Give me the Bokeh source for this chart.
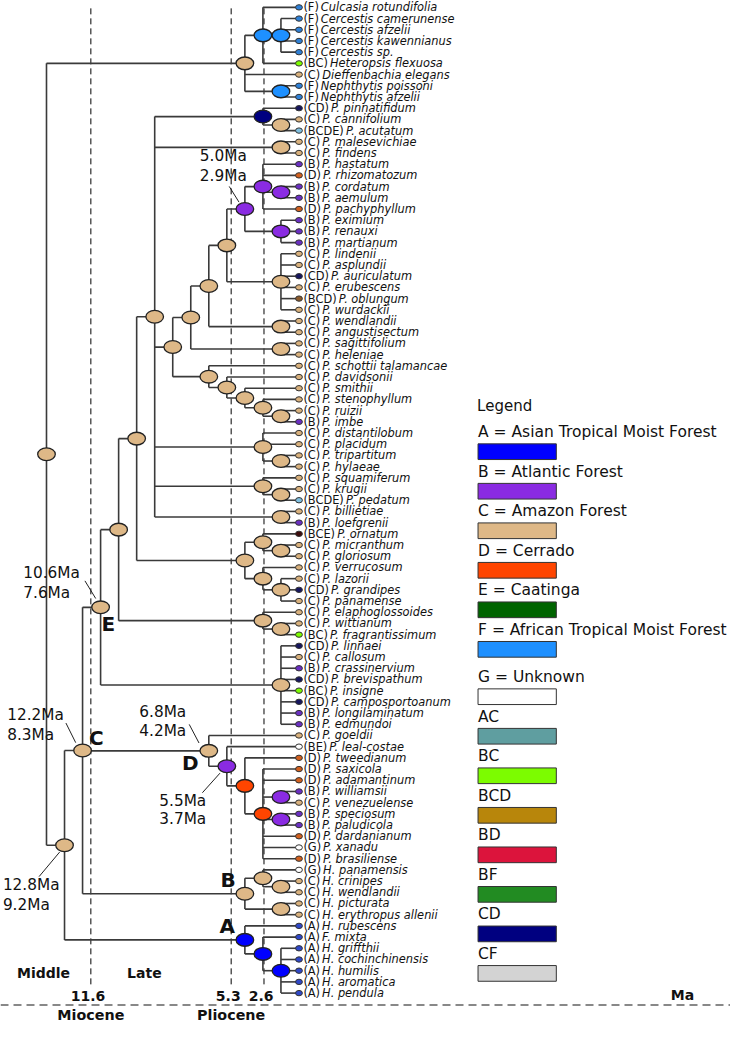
from bokeh.plotting import figure
from bokeh.models import Range1d
from bokeh.core.properties import value
from bokeh.embed import file_html
from bokeh.resources import INLINE

# ---------------- data ----------------
tip_names = [
    "Culcasia rotundifolia", "Cercestis camerunense", "Cercestis afzelii", "Cercestis kawennianus",
    "Cercestis sp.", "Heteropsis flexuosa", "Dieffenbachia elegans", "Nephthytis poissoni", "Nephthytis afzelii",
    "P. pinnatifidum", "P. cannifolium", "P. acutatum", "P. malesevichiae", "P. findens", "P. hastatum",
    "P. rhizomatozum", "P. cordatum", "P. aemulum", "P. pachyphyllum", "P. eximium", "P. renauxi", "P. martianum",
    "P. lindenii", "P. asplundii", "P. auriculatum", "P. erubescens", "P. oblungum", "P. wurdackii",
    "P. wendlandii", "P. angustisectum", "P. sagittifolium", "P. heleniae",
    "P. schottii talamancae", "P. davidsonii", "P. smithii", "P. stenophyllum", "P. ruizii", "P. imbe",
    "P. distantilobum", "P. placidum", "P. tripartitum", "P. hylaeae", "P. squamiferum", "P. krugii",
    "P. pedatum", "P. billietiae", "P. loefgrenii",
    "P. ornatum", "P. micranthum", "P. gloriosum", "P. verrucosum", "P. lazorii", "P. grandipes",
    "P. panamense", "P. elaphoglossoides", "P. wittianum", "P. fragrantissimum",
    "P. linnaei", "P. callosum", "P. crassinervium", "P. brevispathum", "P. insigne", "P. camposportoanum",
    "P. longilaminatum", "P. edmundoi",
    "P. goeldii", "P. leal-costae", "P. tweedianum", "P. saxicola", "P. adamantinum", "P. williamsii",
    "P. venezuelense", "P. speciosum", "P. paludicola", "P. dardanianum", "P. xanadu", "P. brasiliense",
    "H. panamensis", "H. crinipes", "H. wendlandii", "H. picturata", "H. erythropus allenii", "H. rubescens",
    "F. mixta", "H. griffthii", "H. cochinchinensis", "H. humilis", "H. aromatica", "H. pendula",
]
tip_codes = [
    "F", "F", "F", "F", "F", "BC", "C", "F", "F",
    "CD", "C", "BCDE", "C", "C", "B", "D", "B", "B", "D", "B", "B", "B",
    "C", "C", "CD", "C", "BCD", "C", "C", "C", "C", "C",
    "C", "C", "C", "C", "C", "B", "C", "C", "C", "C", "C", "C", "BCDE", "C", "B",
    "BCE", "C", "C", "C", "C", "CD", "C", "C", "C", "BC",
    "CD", "C", "B", "CD", "BC", "CD", "B", "B",
    "C", "BE", "D", "D", "D", "B", "C", "B", "B", "D", "G", "D",
    "G", "C", "C", "C", "C", "A", "A", "A", "A", "A", "A", "A",
]
tip_parent = [
    2, 3, 3, 3, 3, 2, 1, 4, 4,
    11, 12, 12, 13, 13, 19, 19, 20, 20, 19, 21, 21, 21,
    22, 22, 22, 22, 22, 22, 23, 23, 24, 24,
    25, 26, 27, 28, 29, 29, 30, 30, 31, 31, 32, 33, 33, 34, 34,
    36, 37, 37, 38, 39, 39, 39, 40, 41, 41,
    42, 42, 42, 42, 42, 42, 42, 42,
    43, 44, 45, 46, 46, 47, 47, 48, 48, 46, 46, 46,
    50, 51, 51, 52, 52, 53, 54, 55, 55, 55, 55, 55,
]
# internal nodes: parent, depth level (column), reconstructed area
node_parent = [-1, 0, 1, 2, 1, 0, 5, 6, 7, 8, 9, 10, 11, 10, 10, 14, 15, 16, 17, 18, 19, 18, 17, 16, 15,
               14, 25, 26, 27, 28, 10, 30, 10, 32, 10, 9, 35, 36, 35, 38, 8, 40, 7, 6, 43, 44, 45, 46, 46,
               6, 49, 50, 49, 5, 53, 54]
node_level = [0, 11, 12, 13, 13, 1, 2, 3, 4, 5, 6, 12, 13, 13, 7, 8, 9, 10, 11, 12, 13, 13, 13, 13, 13,
              9, 10, 11, 12, 13, 12, 13, 12, 13, 13, 11, 12, 13, 12, 13, 12, 13, 13, 9, 10, 11, 12, 13, 13,
              11, 12, 13, 13, 11, 12, 13]
node_area = ["C", "C", "F", "F", "F", "C", "C", "C", "C", "C", "C", "CD", "C", "C", "C", "C", "C", "C", "B",
             "B", "B", "B", "C", "C", "C", "C", "C", "C", "C", "C", "C", "C", "C", "C", "C", "C", "C", "C",
             "C", "C", "C", "C", "C", "C", "B", "D", "D", "B", "B", "C", "C", "C", "C", "A", "A", "A"]

age_nodes = [18, 7, 6, 43, 44, 5]
age_upper = ["5.0Ma", "10.6Ma", "12.2Ma", "6.8Ma", "5.5Ma", "12.8Ma"]
age_lower = ["2.9Ma", "7.6Ma", "8.3Ma", "4.2Ma", "3.7Ma", "9.2Ma"]

clade_letters = ["A", "B", "C", "D", "E"]
clade_nodes = [53, 49, 6, 43, 7]

boundary_labels = ["11.6", "5.3", "2.6"]
boundary_level = [2.46, 10.24, 12.06]
epoch_names = ["Miocene", "Pliocene"]
subepoch_names = ["Middle", "Late"]

legend_codes = ["A", "B", "C", "D", "E", "F", "G", "AC", "BC", "BCD", "BD", "BF", "CD", "CF"]
legend_labels = ["A = Asian Tropical Moist Forest", "B = Atlantic Forest", "C = Amazon Forest",
                 "D = Cerrado", "E = Caatinga", "F = African Tropical Moist Forest", "G = Unknown",
                 "AC", "BC", "BCD", "BD", "BF", "CD", "CF"]
area_colors = {"A": "#0000ff", "B": "#8a2be2", "C": "#deb887", "D": "#ff4500", "E": "#006400",
               "F": "#1e90ff", "G": "#ffffff", "AC": "#5f9ea0", "BC": "#7cfc00", "BCD": "#b8860b",
               "BD": "#dc143c", "BF": "#228b22", "CD": "#000080", "CF": "#d3d3d3"}
tip_colors = {"A": "#2f48c8", "B": "#6a2fc2", "C": "#d8b07c", "D": "#d2601e", "F": "#2f80d6",
              "G": "#ffffff", "BC": "#7cfc00", "CD": "#16165e", "BCDE": "#7fbfe0", "BCD": "#8b5a2b",
              "BCE": "#3d0c0c", "BE": "#ffffff"}

# ---------------- layout ----------------
W_REF, H_REF = 746, 1045
FIG_W, FIG_H = 730, 1025
X0, DX = 47.0, 18.43
Y0, DY = 7.0, 11.42
TIP_LEVEL = 14
SC = FIG_W / W_REF
FONT = value("DejaVu Sans")
LINE = "#3a3a3a"


def px(level):
    return X0 + level * DX


def py(idx):
    return Y0 + idx * DY


N = len(node_parent)
child_y = {k: [] for k in range(N)}
for i, par in enumerate(tip_parent):
    child_y[par].append(float(i))
node_y = [0.0] * N
node_span = [(0.0, 0.0)] * N
for k in reversed(range(N)):
    ys = child_y[k]
    node_span[k] = (min(ys), max(ys))
    node_y[k] = (min(ys) + max(ys)) / 2
    if node_parent[k] >= 0:
        child_y[node_parent[k]].append(node_y[k])

p = figure(width=FIG_W, height=FIG_H, output_backend="svg", toolbar_location=None,
           x_range=Range1d(0, W_REF), y_range=Range1d(H_REF, 0),
           x_axis_type=None, y_axis_type=None, min_border=0)
p.grid.visible = False
p.outline_line_color = None
p.background_fill_color = "white"

# time boundary dashed lines
bx = [px(l) for l in boundary_level]
p.segment(x0=bx, y0=[8] * 3, x1=bx, y1=[1006] * 3, line_color="black", line_width=1, line_dash="6 4")

# branches
hx0, hx1, hy = [], [], []
for i, par in enumerate(tip_parent):
    hx0.append(px(node_level[par])); hx1.append(px(TIP_LEVEL)); hy.append(py(i))
for k in range(1, N):
    par = node_parent[k]
    hx0.append(px(node_level[par])); hx1.append(px(node_level[k])); hy.append(py(node_y[k]))
p.segment(x0=hx0, y0=hy, x1=hx1, y1=hy, line_color=LINE, line_width=1.6)
vx = [px(node_level[k]) for k in range(N)]
p.segment(x0=vx, y0=[py(s[0]) for s in node_span], x1=vx, y1=[py(s[1]) for s in node_span],
          line_color=LINE, line_width=1.6)

# nodes
p.ellipse(x=vx, y=[py(v) for v in node_y], width=18 * SC, height=13 * SC,
          width_units="screen", height_units="screen",
          fill_color=[area_colors[a] for a in node_area], line_color="#222222", line_width=1.3)

# tips
tx = [px(TIP_LEVEL)] * len(tip_names)
ty = [py(i) for i in range(len(tip_names))]
p.ellipse(x=tx, y=ty, width=7 * SC, height=5.5 * SC, width_units="screen", height_units="screen",
          fill_color=[tip_colors[c] for c in tip_codes], line_color="#333333", line_width=1)

TFS = 11.4
cw = {"(": 0.390, ")": 0.390, "A": 0.684, "B": 0.686, "C": 0.698, "D": 0.770, "E": 0.632,
      "F": 0.575, "G": 0.776}
code_txt = ["(%s)" % c for c in tip_codes]
name_off = [sum(cw[ch] for ch in s) * TFS + 2.0 for s in code_txt]
lx = [px(TIP_LEVEL) + 4.5] * len(tip_names)
p.text(x=lx, y=ty, text=code_txt, text_font=FONT, text_font_size="%.1fpx" % TFS,
       text_baseline="middle", text_align="left", text_color="#111111")
p.text(x=lx, y=ty, text=tip_names, x_offset=name_off, text_font=FONT, text_font_size="%.1fpx" % TFS,
       text_font_style="italic", text_baseline="middle", text_align="left", text_color="#111111")

# age annotations (offsets relative to node, reference px)
age_off = {18: (-46, -54, -34, (-16, -23, -6, -7)),
           7: (-79, -35, -15, (-16, -27, -5, -9)),
           6: (-77, -36, -16, (-17, -28, -7, -8)),
           43: (-71, -40, -20, (-20, -27, -10, -8)),
           44: (-69, 35, 54, (-25, 27, -7, 7)),
           5: (-63, 41, 61, (-26, 32, -5, 7))}
ax, ay1, ay2, l0x, l0y, l1x, l1y = [], [], [], [], [], [], []
for k in age_nodes:
    nx, nyy = px(node_level[k]), py(node_y[k])
    o = age_off[k]
    ax.append(nx + o[0]); ay1.append(nyy + o[1]); ay2.append(nyy + o[2])
    l0x.append(nx + o[3][0]); l0y.append(nyy + o[3][1]); l1x.append(nx + o[3][2]); l1y.append(nyy + o[3][3])
p.segment(x0=l0x, y0=l0y, x1=l1x, y1=l1y, line_color="#222222", line_width=1)
p.text(x=ax, y=ay1, text=age_upper, text_font=FONT, text_font_size="15.3px",
       text_baseline="middle", text_align="left", text_color="#111111")
p.text(x=ax, y=ay2, text=age_lower, text_font=FONT, text_font_size="15.3px",
       text_baseline="middle", text_align="left", text_color="#111111")

letter_off = {"A": (-18, -14), "B": (-17, -14), "C": (14, -13), "D": (-19, 12), "E": (8, 17)}
p.text(x=[px(node_level[k]) + letter_off[c][0] for c, k in zip(clade_letters, clade_nodes)],
       y=[py(node_y[k]) + letter_off[c][1] for c, k in zip(clade_letters, clade_nodes)],
       text=clade_letters, text_font=FONT, text_font_size="20px", text_font_style="bold",
       text_baseline="middle", text_align="center", text_color="#111111")

# time scale texts
p.text(x=[b - 3 for b in bx], y=[1015] * 3, text=boundary_labels, text_font=FONT, text_font_size="14px",
       text_font_style="bold", text_baseline="middle", text_align="center", text_color="#111111")
p.text(x=bx[:2], y=[1034] * 2, text=epoch_names, text_font=FONT, text_font_size="14.3px",
       text_font_style="bold", text_baseline="middle", text_align="center", text_color="#111111")
p.text(x=[44, 147], y=[991, 991], text=subepoch_names, text_font=FONT, text_font_size="14px",
       text_font_style="bold", text_baseline="middle", text_align="center", text_color="#111111")
p.text(x=[697], y=[1014], text=["Ma"], text_font=FONT, text_font_size="14px",
       text_font_style="bold", text_baseline="middle", text_align="center", text_color="#111111")
p.segment(x0=[0], y0=[1024], x1=[W_REF], y1=[1024], line_color="#888888", line_width=2, line_dash="8 5")

# legend
LX = 488
rows_y = [440 + 40.3 * k + (8 if k >= 6 else 0) for k in range(len(legend_codes))]
p.text(x=[LX - 1], y=[413], text=["Legend"], text_font=FONT, text_font_size="15px",
       text_baseline="middle", text_align="left", text_color="#111111")
p.text(x=[LX] * len(rows_y), y=rows_y, text=legend_labels, text_font=FONT, text_font_size="15.5px",
       text_baseline="middle", text_align="left", text_color="#111111")
p.rect(x=[LX + 40] * len(rows_y), y=[r + 20 for r in rows_y], width=80, height=16,
       fill_color=[area_colors[c] for c in legend_codes], line_color="#333333", line_width=1)

open("out.html", "w").write(file_html(p, INLINE))
